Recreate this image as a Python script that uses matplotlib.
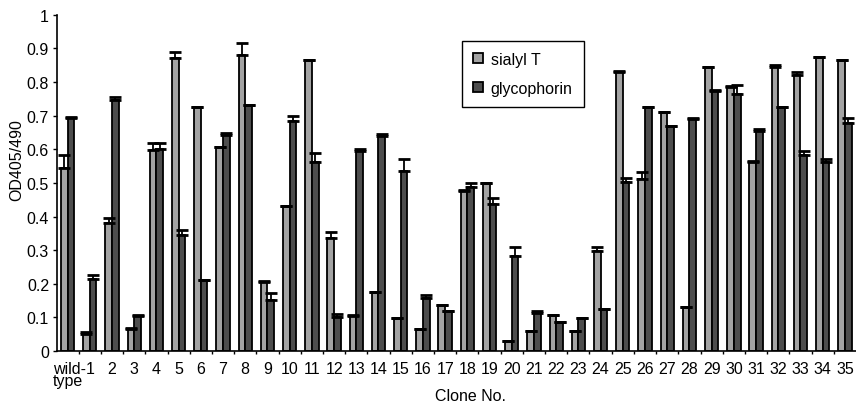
import numpy as np
import matplotlib
matplotlib.use("Agg")
import matplotlib.pyplot as plt
from matplotlib.transforms import ScaledTranslation

plt.rcParams['font.family'] = ['Liberation Sans', 'DejaVu Sans']

clones = ["wild-\ntype"] + [str(i) for i in range(1, 36)]

sialyl = [0.544, 0.050, 0.380, 0.064, 0.598, 0.872, 0.726, 0.607, 0.881, 0.205,
          0.431, 0.866, 0.337, 0.104, 0.176, 0.099, 0.064, 0.137, 0.477, 0.501,
          0.030, 0.060, 0.106, 0.060, 0.298, 0.831, 0.512, 0.712, 0.132, 0.844,
          0.785, 0.562, 0.844, 0.822, 0.875, 0.867]
sialyl_err = [0.039, 0.007, 0.016, 0.003, 0.020, 0.016, 0.0, 0.0, 0.036, 0.002,
              0.0, 0.0, 0.017, 0.002, 0.0, 0.0, 0.0, 0.0, 0.002, 0.0,
              0.0, 0.0, 0.0, 0.0, 0.011, 0.003, 0.020, 0.0, 0.0, 0.0,
              0.002, 0.003, 0.006, 0.007, 0.0, 0.0]

glyco = [0.694, 0.215, 0.746, 0.104, 0.600, 0.345, 0.212, 0.642, 0.733, 0.151,
         0.684, 0.562, 0.102, 0.594, 0.639, 0.534, 0.159, 0.118, 0.489, 0.436,
         0.284, 0.113, 0.087, 0.099, 0.126, 0.503, 0.727, 0.669, 0.691, 0.772,
         0.765, 0.653, 0.725, 0.582, 0.562, 0.677]
glyco_err = [0.002, 0.010, 0.010, 0.003, 0.018, 0.015, 0.0, 0.007, 0.0, 0.021,
             0.015, 0.026, 0.007, 0.006, 0.008, 0.038, 0.008, 0.0, 0.012, 0.018,
             0.025, 0.007, 0.0, 0.0, 0.0, 0.011, 0.0, 0.0, 0.002, 0.004,
             0.027, 0.007, 0.0, 0.012, 0.010, 0.016]

x = np.arange(len(clones))
w = 0.3
fs = 11.5

fig = plt.figure(figsize=(8.56, 4.06), dpi=100)
ax = fig.add_axes([0.067, 0.133, 0.933, 0.828])

zeros = np.zeros(len(x))
ax.bar(x - w / 2, sialyl, w, color="#a3a3a3", edgecolor="black", linewidth=1.3,
       label="sialyl T", zorder=2)
ax.bar(x + w / 2, glyco, w, color="#4d4d4d", edgecolor="black", linewidth=1.3,
       label="glycophorin", zorder=2)
ax.errorbar(x - w / 2, sialyl, yerr=[zeros, sialyl_err], fmt="none", ecolor="black",
            elinewidth=1.3, capsize=4.5, capthick=2, zorder=3)
ax.errorbar(x + w / 2, glyco, yerr=[zeros, glyco_err], fmt="none", ecolor="black",
            elinewidth=1.3, capsize=4.5, capthick=2, zorder=3)

ax.set_xlim(-0.46, len(x) - 0.5)
ax.set_ylim(0, 1)
ax.set_yticks(np.arange(0, 1.01, 0.1))
ax.set_yticklabels(["0"] + ["%.1f" % v for v in np.arange(0.1, 0.95, 0.1)] + ["1"])
ax.set_xticks(x)
ax.set_xticklabels(clones, multialignment="left", linespacing=0.8)
ax.set_xticks(np.arange(0.5, len(x) - 1, 1), minor=True)
ax.tick_params(axis="x", which="major", length=0, pad=7, labelsize=fs)
ax.tick_params(axis="x", which="minor", length=2, width=1)
ax.tick_params(axis="y", length=3, width=1, labelsize=fs, pad=3)

# nudge the two-line "wild-type" label a little to the right
first = ax.get_xticklabels()[0]
first.set_transform(first.get_transform() + ScaledTranslation(0.015, 0, fig.dpi_scale_trans))

for s in ["top", "right"]:
    ax.spines[s].set_visible(False)
ax.spines["left"].set_linewidth(1.2)
ax.spines["bottom"].set_linewidth(1.2)

ax.set_ylabel("OD405/490", fontsize=fs)
ax.yaxis.set_label_coords(-0.041, 0.57)
ax.set_xlabel("Clone No.", fontsize=fs)
ax.xaxis.set_label_coords(0.517, -0.11)

leg = ax.legend(loc="upper left", bbox_to_anchor=(0.5066, 0.9226), fontsize=fs,
                frameon=True, fancybox=False, framealpha=1, edgecolor="black",
                handlelength=0.6, handleheight=0.6, labelspacing=0.85,
                handletextpad=0.5, borderpad=0.7, borderaxespad=0)
leg.get_frame().set_linewidth(1.0)

plt.savefig("out.png", dpi=100)
